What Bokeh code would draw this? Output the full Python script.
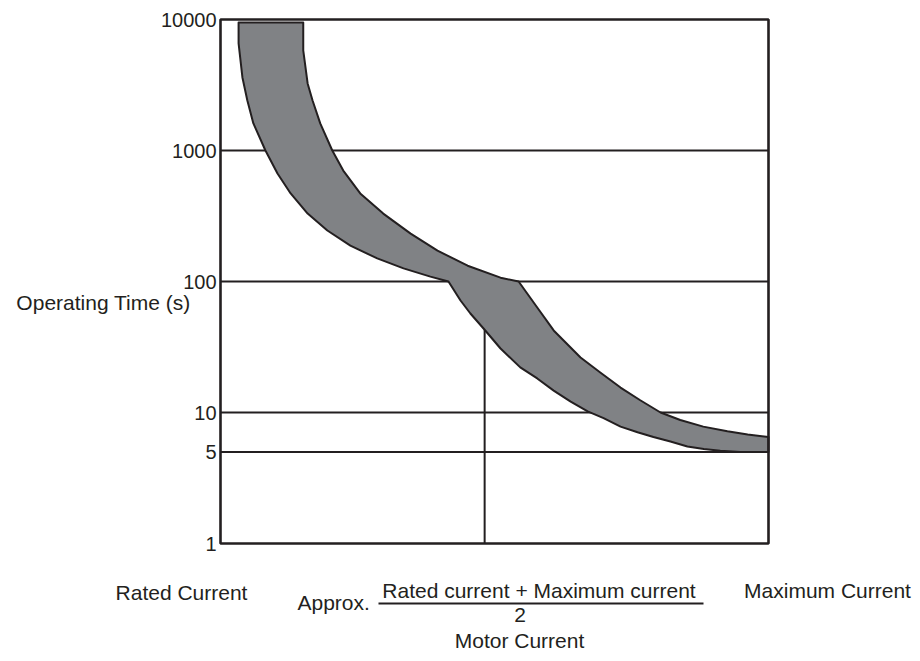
from bokeh.plotting import figure
from bokeh.embed import file_html
from bokeh.resources import INLINE
from bokeh.models import Range1d
from bokeh.core.properties import value
import numpy as np

# ---- data (x: 0 = rated current, 1 = maximum current; y: operating time in s) ----
x_domain = [0.0, 1.0]
y_ticks = [1, 5, 10, 100, 1000, 10000]
grid_ticks = [5, 10, 100, 1000]

lower_x = [0.033, 0.033, 0.040, 0.049, 0.060, 0.082, 0.104, 0.128, 0.159, 0.195,
           0.237, 0.286, 0.334, 0.383, 0.416, 0.438, 0.456, 0.480, 0.511, 0.547,
           0.578, 0.608, 0.639, 0.670, 0.699, 0.730, 0.761, 0.790, 0.821, 0.852,
           0.882, 0.912, 0.949, 1.0]
lower_y = [9500, 6560, 3610, 2410, 1610, 1000, 667, 470, 330, 245,
           188, 150, 126, 109, 100, 71.6, 57, 43.8, 30.8, 22.1,
           18.2, 14.7, 12.1, 10.2, 9.06, 7.8, 7.07, 6.5, 6.0, 5.5,
           5.26, 5.1, 5.0, 5.0]

upper_x = [0.151, 0.151, 0.159, 0.168, 0.182, 0.204, 0.224, 0.255, 0.297, 0.347,
           0.396, 0.451, 0.511, 0.544, 0.578, 0.608, 0.657, 0.693, 0.730, 0.766,
           0.803, 0.839, 0.881, 0.925, 0.962, 1.0]
upper_y = [9500, 5800, 3250, 2410, 1610, 1000, 703, 470, 330, 232,
           172, 132, 107, 100, 63.3, 42.3, 26.3, 20.2, 15.5, 12.4,
           10, 8.76, 7.8, 7.2, 6.8, 6.5]

mid_x = 0.482  # approx. (rated + maximum) / 2

y_label = "Operating Time (s)"
x_label = "Motor Current"
left_label = "Rated Current"
right_label = "Maximum Current"
mid_prefix = "Approx."
mid_numerator = "Rated current + Maximum current"
mid_denominator = "2"

# ---- layout / style ----
FONT = "Liberation Sans"
INK = "#231f20"
W, H = 912, 653
FRAME_L, FRAME_R, FRAME_T, FRAME_B = 220, 768, 19, 543   # pixel box of the chart

px_per_x = (FRAME_R - FRAME_L) / (x_domain[1] - x_domain[0])
px_per_dec = (FRAME_B - FRAME_T) / (np.log10(y_ticks[-1]) - np.log10(y_ticks[0]))
x0 = x_domain[0] - FRAME_L / px_per_x
x1 = x0 + W / px_per_x
y_hi = 10 ** (np.log10(y_ticks[-1]) + FRAME_T / px_per_dec)
y_lo = 10 ** (np.log10(y_ticks[0]) - (H - FRAME_B) / px_per_dec)


def px_x(px):
    return x_domain[0] + (px - FRAME_L) / px_per_x


def px_y(py):
    return 10 ** (np.log10(y_ticks[0]) + (FRAME_B - py) / px_per_dec)


p = figure(width=W, height=H, x_range=Range1d(x0, x1), y_range=Range1d(y_lo, y_hi),
           y_axis_type="log", output_backend="svg", toolbar_location=None,
           x_axis_location=None, y_axis_location=None, min_border=0)
p.title.visible = False
p.grid.visible = False
p.outline_line_color = None
p.background_fill_color = "white"
p.border_fill_color = "white"

# horizontal grid lines across the chart box
p.segment(x0=[x_domain[0]] * len(grid_ticks), x1=[x_domain[1]] * len(grid_ticks),
          y0=grid_ticks, y1=grid_ticks, line_color=INK, line_width=2)

# vertical marker at approx. mid current, up to the band
mid_top = float(np.interp(mid_x, lower_x, lower_y))
p.segment(x0=[mid_x], y0=[y_ticks[0]], x1=[mid_x], y1=[mid_top],
          line_color=INK, line_width=2)

# operating band
band_x = lower_x + upper_x[::-1]
band_y = lower_y + upper_y[::-1]
p.patch(band_x, band_y, fill_color="#808285", line_color=INK,
        line_width=2, line_join="round")

# chart box
p.quad(left=[x_domain[0]], right=[x_domain[1]], bottom=[y_ticks[0]], top=[y_ticks[-1]],
       fill_color=None, line_color=INK, line_width=2.6)

# y tick labels
p.text(x=[x_domain[0]] * len(y_ticks), y=y_ticks, text=[str(t) for t in y_ticks],
       x_offset=-4, text_align="right", text_baseline="middle",
       text_font=value(FONT), text_font_size=value("20px"), text_color=INK)


def lab(text, px, py, align="center", size="21px"):
    p.text(x=[px_x(px)], y=[px_y(py)], text=[text], text_align=align,
           text_baseline="middle", text_font=value(FONT),
           text_font_size=value(size), text_color=INK)


lab(y_label, 103, 301.5)
lab(left_label, 181, 591.5)
lab(right_label, 827, 589.5)
lab(mid_prefix, 297, 601.5, align="left")
lab(mid_numerator, 538.5, 589.5)
lab(mid_denominator, 519.5, 614.5)
lab(x_label, 519, 640)

# fraction bar
p.segment(x0=[px_x(378)], x1=[px_x(703)], y0=[px_y(603)], y1=[px_y(603)],
          line_color=INK, line_width=2)

open("out.html", "w").write(file_html(p, INLINE))
